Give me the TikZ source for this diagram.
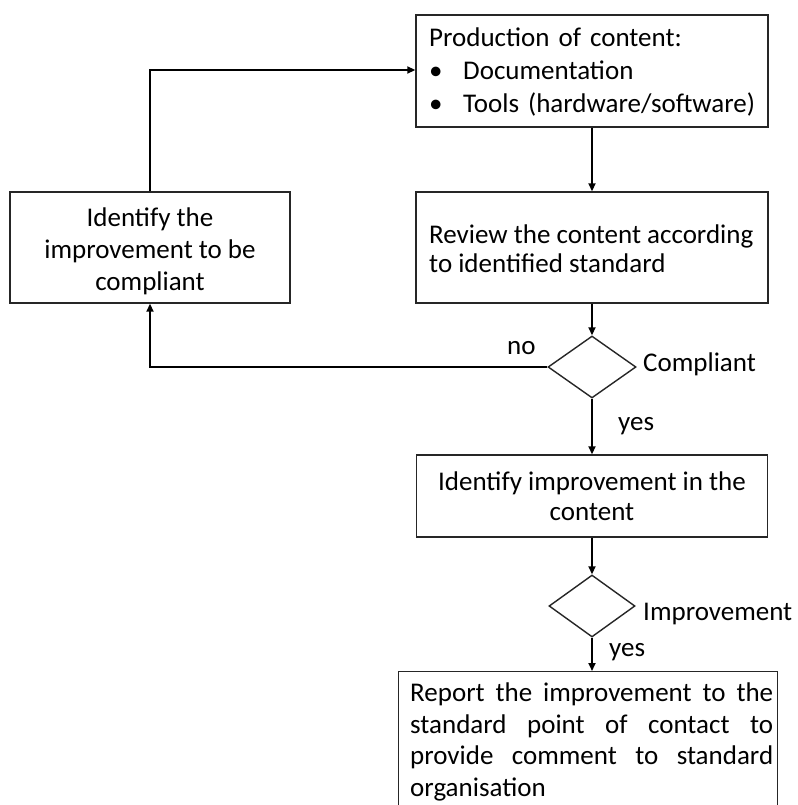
\documentclass[tikz,border=0pt]{standalone}
\usepackage{fontspec}
\setmainfont{Carlito}
\usetikzlibrary{shapes.geometric,arrows.meta}
\begin{document}
\begin{tikzpicture}[x=1pt,y=-1pt,
  box/.style={draw=black!85,line width=1.4pt,rectangle,inner sep=0pt},
  dia/.style={draw=black!85,line width=1.4pt,diamond,inner sep=0pt,minimum width=88pt,minimum height=62pt},
  conn/.style={line width=1.8pt,-{Triangle[length=8pt,width=7pt]}},
  lbl/.style={inner sep=0pt,font=\fontsize{27}{32}\selectfont}
]
\clip (0,0) rectangle (797,805);
\fill[white] (0,0) rectangle (797,805);

\node[box,minimum width=352pt,minimum height=112pt] (top) at (592,71) {};
\node[lbl,anchor=north west,align=left,text width=330pt,font=\fontsize{27}{33}\selectfont] (toptext) at (429,28)
 {Production of content:\\
  \makebox[34pt][l]{\textbullet}Documentation\\
  \makebox[34pt][l]{\textbullet}Tools (hardware/software)};

\node[box,minimum width=280pt,minimum height=111pt,align=center,font=\fontsize{27}{32}\selectfont] (left) at (150,247.5)
 {\rule{0pt}{26pt}Identify the\\improvement to be\\compliant};

\node[box,minimum width=352pt,minimum height=111pt] (review) at (592,247.5) {};
\node[lbl,anchor=west,align=left,font=\fontsize{27}{29}\selectfont] (reviewtext) at (429,249)
 {Review the content according\\to identified standard};

\node[dia] (d1) at (592,367) {};

\node[box,minimum width=351pt,minimum height=82pt,align=center,font=\fontsize{27}{30}\selectfont] (ident) at (592,496)
 {Identify improvement in the\\content};

\node[dia,minimum width=86pt] (d2) at (592,606) {};

\node[box,anchor=north west,minimum width=379pt,minimum height=150pt] (report) at (398,671) {};
\node[inner sep=0pt,anchor=north west] (reporttext) at (410,683)
 {\parbox{363pt}{\fontsize{27}{31.5}\selectfont Report the improvement to the\linebreak
  standard point of contact to\linebreak
  provide comment to standard\linebreak
  organisation}};

\node[lbl,anchor=west] (lno) at (507,348) {no};
\node[lbl,anchor=west] (lcomp) at (643,364) {Compliant};
\node[lbl,anchor=west] (lyes1) at (618,426) {yes};
\node[lbl,anchor=west] (limp) at (643,614) {Improvement};
\node[lbl,anchor=west] (lyes2) at (609,652) {yes};

\draw[conn] (top.south) -- (review.north);
\draw[conn] (review.south) -- (d1.north);
\draw[conn] (d1.west) -| (left.south);
\draw[conn] (left.north) |- ([yshift=1pt]top.west);
\draw[conn] (d1.south) -- (ident.north);
\draw[conn] (ident.south) -- (d2.north);
\draw[conn] (d2.south) -- (report.north -| d2.south);
\end{tikzpicture}
\end{document}
